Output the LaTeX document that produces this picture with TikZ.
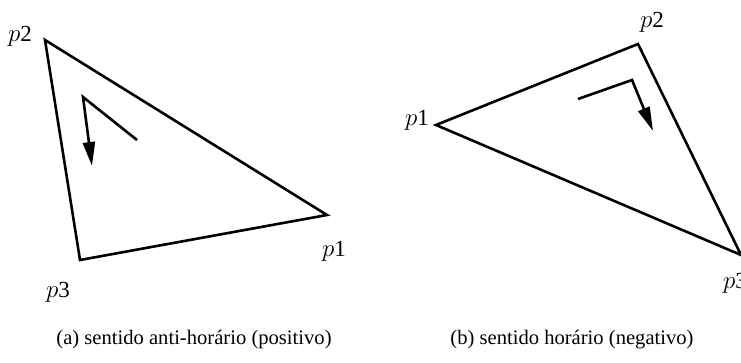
\documentclass[tikz,border=0pt]{standalone}
\usepackage{fontspec}
\setmainfont{Liberation Serif}
\usepackage{tikz}
\usetikzlibrary{arrows.meta}
\tikzset{
  edge/.style={line width=2.6pt, line join=miter},
  turn/.style={line width=2.6pt, -{Triangle[length=24pt, width=12pt]}},
  vlabel/.style={font=\fontsize{23}{26}\selectfont, inner sep=0pt},
  caption/.style={font=\fontsize{20.6}{24}\selectfont, inner sep=0pt}
}

\begin{document}
\begin{tikzpicture}[x=1pt, y=-1pt]

\useasboundingbox (0,0) rectangle (741,363);

% (a) anti-horario
\coordinate (a1) at (327,215);
\coordinate (a2) at (45,40);
\coordinate (a3) at (80,260);
\draw[edge] (a1) -- (a2) -- (a3) -- cycle;

\coordinate (aStart) at (137,140);
\coordinate (aCorner) at (83,97);
\coordinate (aTip) at (92,166);
\draw[turn] (aStart) -- (aCorner) -- (aTip);

\node[vlabel] (la1) at (334,251) {$p$1};
\node[vlabel] (la2) at (20,36) {$p$2};
\node[vlabel] (la3) at (58,292) {$p$3};

% (b) horario
\coordinate (b1) at (436,125);
\coordinate (b2) at (638,44);
\coordinate (b3) at (741,255);
\draw[edge] (b1) -- (b2) -- (b3) -- cycle;

\coordinate (bStart) at (578,99);
\coordinate (bCorner) at (632,80);
\coordinate (bTip) at (653,131);
\draw[turn] (bStart) -- (bCorner) -- (bTip);

\node[vlabel] (lb1) at (417,120) {$p$1};
\node[vlabel] (lb2) at (652,22) {$p$2};
\node[vlabel] (lb3) at (735,283) {$p$3};

\node[caption] (capa) at (194,340) {(a) sentido anti-horário (positivo)};
\node[caption] (capb) at (572,340) {(b) sentido horário (negativo)};

\end{tikzpicture}
\end{document}
